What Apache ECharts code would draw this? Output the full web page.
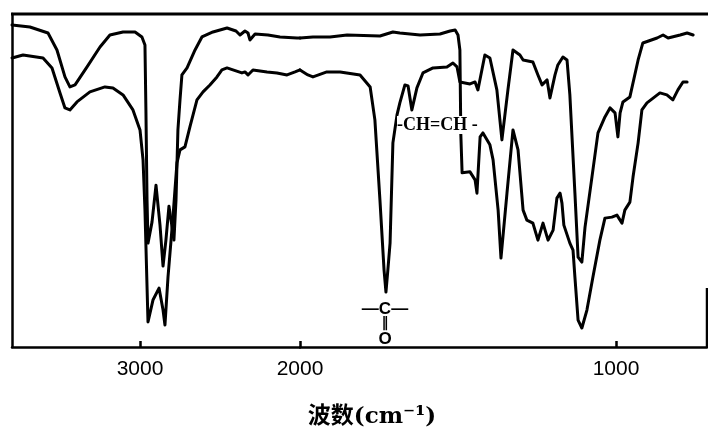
<!DOCTYPE html>
<html>
<head>
<meta charset="utf-8">
<script src="https://cdn.jsdelivr.net/npm/echarts@6/dist/echarts.min.js"></script>
<style>
html,body{margin:0;padding:0;background:#fff;}
#chart{width:708px;height:431px;}
</style>
</head>
<body>
<div id="chart"></div>
<script>
// Wavenumber (cm^-1) and transmittance (%)
const curveA = [
  [3800,96.7],[3688,96.1],[3575,94.3],[3519,89.2],[3469,81.1],[3438,78.1],[3406,78.7],[3331,84.1],
  [3250,90.1],[3188,93.7],[3106,94.6],[3031,94.6],[2988,93.1],[2969,90.7],[2963,71.2],[2956,44.1],
  [2950,31.2],[2925,37.5],[2900,48.6],[2875,36.6],[2856,24.3],[2838,32.1],[2819,42.3],[2806,38.1],
  [2788,32.1],[2775,44.1],[2763,65.2],[2750,74.2],[2738,81.7],[2706,83.8],[2656,89.2],[2613,93.1],
  [2544,94.6],[2456,95.8],[2400,94.9],[2375,93.7],[2344,94.9],[2325,94.3],[2313,92.2],[2281,94.0],
  [2200,93.7],[2125,93.1],[2019,92.8],[2000,92.8],
  [1959,93.1],[1905,93.1],[1851,93.7],[1747,93.4],[1706,94.6],[1684,94.3],[1620,93.7],[1557,94.0],
  [1525,94.9],[1509,95.2],[1500,93.7],[1494,89.2],[1491,63.7],[1487,52.3],[1462,52.6],[1446,50.2],
  [1440,46.2],[1430,63.1],[1421,64.3],[1399,60.7],[1389,56.2],[1373,41.1],[1364,26.7],[1345,46.2],
  [1326,65.2],[1310,59.2],[1294,41.1],[1282,38.1],[1263,37.2],[1247,32.1],[1231,37.2],[1215,32.1],
  [1199,35.1],[1187,44.7],[1177,46.2],[1171,43.2],[1165,36.6],[1146,31.2],[1136,29.1],[1130,21.0],
  [1120,8.1],[1108,5.7],[1092,11.1],[1073,21.0],[1051,32.1],[1035,38.7],[1013,39.0],[997,39.6],
  [981,37.2],[972,41.1],[956,43.5],[946,51.1],[930,61.3],[918,71.2],[902,73.3],[861,76.3],
  [839,75.7],[820,74.2],[804,77.2],[788,79.6],[775,79.6]
];
const curveB = [
  [3800,86.8],[3731,87.7],[3606,86.8],[3550,83.8],[3500,76.3],[3469,71.8],[3438,71.2],[3394,73.6],
  [3313,76.6],[3219,78.1],[3169,77.8],[3106,75.7],[3044,71.2],[3000,65.2],[2981,56.2],[2969,41.1],
  [2950,7.5],[2919,14.1],[2881,17.7],[2856,11.1],[2844,6.6],[2825,21.0],[2794,39.0],[2769,55.3],
  [2750,59.2],[2719,60.1],[2688,66.1],[2644,74.2],[2606,76.6],[2563,78.7],[2519,81.1],[2488,83.2],
  [2456,83.8],[2419,83.2],[2363,82.3],[2344,82.6],[2325,81.7],[2294,83.2],[2206,82.6],[2144,82.3],
  [2081,81.7],[2031,82.6],[2000,83.2],
  [1975,81.7],[1959,81.1],[1915,82.6],[1873,82.6],[1810,81.7],[1778,78.1],[1763,68.2],[1747,44.1],
  [1734,23.1],[1728,16.5],[1722,23.1],[1715,31.2],[1706,61.3],[1693,69.7],[1684,73.3],[1668,78.7],
  [1658,78.4],[1646,71.2],[1630,77.8],[1611,82.3],[1579,83.8],[1535,84.1],[1516,85.3],[1503,84.1],
  [1494,79.6],[1462,79.0],[1446,79.6],[1437,77.2],[1415,87.7],[1399,86.8],[1377,77.2],[1361,62.2],
  [1342,77.2],[1326,89.2],[1304,87.7],[1294,86.2],[1263,85.6],[1247,81.7],[1234,78.7],[1218,80.2],
  [1209,74.8],[1193,81.7],[1184,84.7],[1168,87.1],[1155,86.2],[1146,75.7],[1130,46.2],[1120,27.0],
  [1108,25.5],[1098,36.0],[1076,51.1],[1057,64.3],[1035,69.1],[1019,71.8],[1003,70.3],[994,63.1],
  [987,70.3],[978,73.6],[956,75.1],[930,86.2],[915,91.3],[870,92.8],[851,93.7],[835,92.8],
  [797,93.7],[775,94.3],[756,93.7]
];
const ticksHigh = [3000, 2000];
const ticksLow = [1000];
const axisTitle = '波数(cm⁻¹)';
const bandLabelOlefin = '-CH=CH -';
const bandLabelCarbonyl = ['—C—', '‖', 'O'];

const highPart = c => c.filter(p => p[0] >= 2000);
const lowPart = c => c.filter(p => p[0] <= 2000);

const chart = echarts.init(document.getElementById('chart'), null, {renderer: 'canvas'});
const lineStyle = {color: '#000', width: 3, join: 'round', cap: 'round'};
const tickLabel = {color: '#000', fontSize: 21, fontFamily: 'Liberation Sans', margin: 12};
const mkSeries = (data, idx) => ({
  type: 'line', xAxisIndex: idx, yAxisIndex: idx, data: data,
  showSymbol: false, symbol: 'none', lineStyle: lineStyle, silent: true, animation: false, z: 3
});
chart.setOption({
  animation: false,
  backgroundColor: '#fff',
  grid: [
    {left: 12, top: 14, width: 288, height: 333},
    {left: 300, top: 14, width: 407, height: 333}
  ],
  xAxis: [
    {type: 'value', gridIndex: 0, min: 2000, max: 3800, inverse: true,
     splitLine: {show: false},
     axisLine: {show: true, lineStyle: {color: '#000', width: 2.5}},
     axisTick: {show: true, inside: true, length: 6, customValues: ticksHigh, lineStyle: {color: '#000', width: 2.5}},
     axisLabel: Object.assign({customValues: ticksHigh, formatter: v => String(v)}, tickLabel)},
    {type: 'value', gridIndex: 1, min: 712, max: 2000, inverse: true,
     splitLine: {show: false},
     axisLine: {show: true, lineStyle: {color: '#000', width: 2.5}},
     axisTick: {show: true, inside: true, length: 6, customValues: ticksLow, lineStyle: {color: '#000', width: 2.5}},
     axisLabel: Object.assign({customValues: ticksLow, formatter: v => String(v)}, tickLabel)}
  ],
  yAxis: [
    {type: 'value', gridIndex: 0, min: 0, max: 100, splitLine: {show: false},
     axisLine: {show: true, lineStyle: {color: '#000', width: 2.5}},
     axisTick: {show: false}, axisLabel: {show: false}},
    {type: 'value', gridIndex: 1, min: 0, max: 100, show: false, splitLine: {show: false}}
  ],
  series: [
    mkSeries(highPart(curveA), 0),
    mkSeries(lowPart(curveA), 1),
    mkSeries(highPart(curveB), 0),
    mkSeries(lowPart(curveB), 1)
  ],
  graphic: [
    {type: 'line', shape: {x1: 11, y1: 14, x2: 708, y2: 14}, style: {stroke: '#000', lineWidth: 3}, z: 10},
    {type: 'line', shape: {x1: 707, y1: 288, x2: 707, y2: 348}, style: {stroke: '#000', lineWidth: 2.5}, z: 10},
    {type: 'text', x: 397, y: 125, z: 20,
     style: {text: bandLabelOlefin, font: 'bold 18px "Liberation Serif"', fill: '#000',
             verticalAlign: 'middle', align: 'left', backgroundColor: '#fff'}},
    {type: 'text', x: 385, y: 309, z: 20,
     style: {text: bandLabelCarbonyl[0], font: 'bold 17px "Liberation Sans"', fill: '#000', align: 'center', verticalAlign: 'middle'}},
    {type: 'text', x: 385, y: 323, z: 20,
     style: {text: bandLabelCarbonyl[1], font: 'bold 14px "DejaVu Sans"', fill: '#000', align: 'center', verticalAlign: 'middle'}},
    {type: 'text', x: 385, y: 339, z: 20,
     style: {text: bandLabelCarbonyl[2], font: 'bold 17px "Liberation Sans"', fill: '#000', align: 'center', verticalAlign: 'middle'}},
    {type: 'text', x: 372, y: 417, z: 20,
     style: {text: axisTitle, font: 'bold 23px "DejaVu Serif", "Noto Sans CJK SC"', fill: '#000', align: 'center', verticalAlign: 'middle'}}
  ]
});
</script>
</body>
</html>
